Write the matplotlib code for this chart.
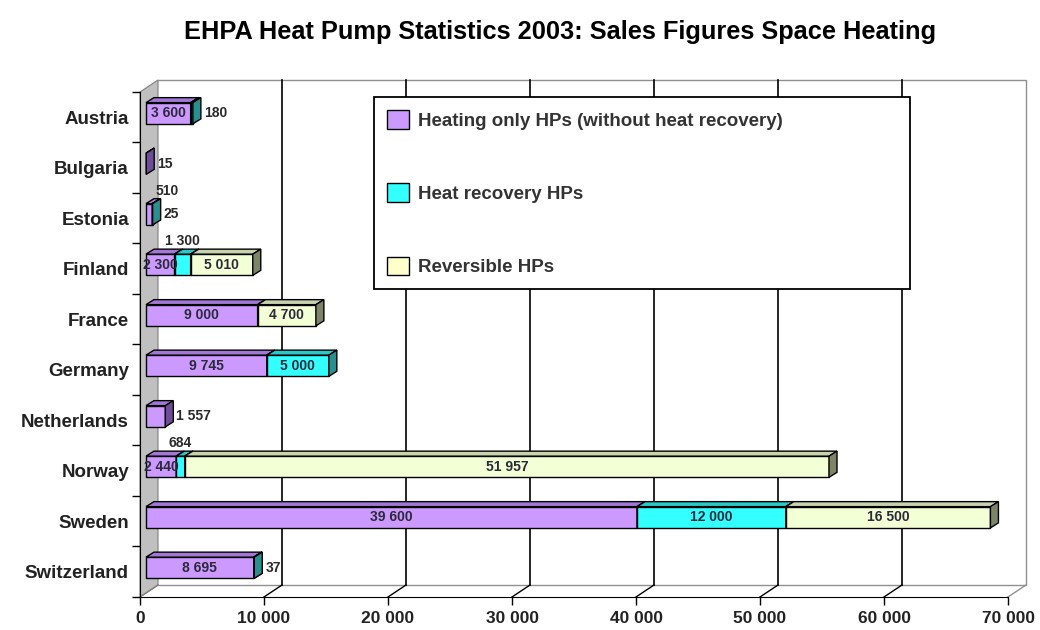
import matplotlib
matplotlib.use("Agg")
import matplotlib.pyplot as plt
from matplotlib.patches import Polygon, Patch

plt.rcParams['font.family'] = ['Liberation Sans', 'DejaVu Sans']

# data (units sold, 2003)
countries = ['Austria', 'Bulgaria', 'Estonia', 'Finland', 'France', 'Germany',
             'Netherlands', 'Norway', 'Sweden', 'Switzerland']
heating_only = [3600, 15, 510, 2300, 9000, 9745, 1557, 2440, 39600, 8695]
heat_recovery = [180, 0, 25, 1300, 0, 5000, 0, 684, 12000, 37]
reversible = [0, 0, 0, 5010, 4700, 0, 0, 51957, 16500, 0]
series_names = ['Heating only HPs (without heat recovery)', 'Heat recovery HPs', 'Reversible HPs']
x_ticks = [0, 10000, 20000, 30000, 40000, 50000, 60000, 70000]

# colours: front, top, side
colors = [('#CC99FF', '#A377D6', '#6E4C99'),
          ('#33FFFF', '#2BC8C8', '#2A8F8F'),
          ('#F3FFD4', '#C9D2AE', '#7D8468')]
legend_colors = ['#CC99FF', '#33FFFF', '#FFFFCC']

W, H = 1040, 630
fig = plt.figure(figsize=(W / 100, H / 100), dpi=100)
ax = fig.add_axes([140 / W, 1 - 597 / H, 868 / W, 505 / H])
XMAX = 70000
ax.set_xlim(0, XMAX)
ax.set_ylim(9.5, -0.5)

# pixel -> data unit helpers for the fake 3D depth
PX = XMAX / 868.0
PY = 10 / 505.0
back_dx, back_dy = 18 * PX, -12 * PY     # back wall offset
bar_dx, bar_dy = 6 * PX, -4 * PY         # bar plane offset
dep_dx, dep_dy = 8 * PX, -5 * PY         # bar depth
bar_h = 0.42

y_top, y_bot = -0.5, 9.5

# side wall (grey)
ax.add_patch(Polygon([(0, y_bot), (0, y_top), (back_dx, y_top + back_dy), (back_dx, y_bot + back_dy)],
                     closed=True, facecolor='#C0C0C0', edgecolor='#808080', lw=0.8, zorder=1, clip_on=False))
# back frame and floor
ax.plot([back_dx, XMAX + back_dx, XMAX + back_dx, back_dx],
        [y_top + back_dy, y_top + back_dy, y_bot + back_dy, y_bot + back_dy],
        color='#909090', lw=1, zorder=1, clip_on=False)
for t in x_ticks[1:]:
    c = '#909090' if t == XMAX else 'black'
    if t < XMAX:
        ax.plot([t + back_dx, t + back_dx], [y_top + back_dy, y_bot + back_dy], color='black', lw=1.2, zorder=1, clip_on=False)
    ax.plot([t, t + back_dx], [y_bot, y_bot + back_dy], color=c, lw=1, zorder=1, clip_on=False)
ax.plot([0, back_dx], [y_bot, y_bot + back_dy], color='#808080', lw=1, zorder=1, clip_on=False)

# bars
all_series = [heating_only, heat_recovery, reversible]
for i, name in enumerate(countries):
    vals = [s[i] for s in all_series]
    nz = [k for k, v in enumerate(vals) if v > 0]
    left = 0
    yc = i + bar_dy
    for k in nz:
        v = vals[k]
        x0, x1 = left + bar_dx, left + v + bar_dx
        fc, tc, sc = colors[k]
        y0, y1 = yc - bar_h / 2, yc + bar_h / 2
        ax.add_patch(Polygon([(x0, y0), (x1, y0), (x1, y1), (x0, y1)], closed=True,
                             facecolor=fc, edgecolor='black', lw=1, zorder=3, clip_on=False))
        ax.add_patch(Polygon([(x0, y0), (x1, y0), (x1 + dep_dx, y0 + dep_dy), (x0 + dep_dx, y0 + dep_dy)], closed=True,
                             facecolor=tc, edgecolor='black', lw=1, zorder=3, clip_on=False))
        ax.add_patch(Polygon([(x1, y0), (x1 + dep_dx, y0 + dep_dy), (x1 + dep_dx, y1 + dep_dy), (x1, y1)], closed=True,
                             facecolor=sc, edgecolor='black', lw=1, zorder=3, clip_on=False))
        label = f"{v:,}".replace(",", " ")
        if v >= 2000:
            ax.text((x0 + x1) / 2, yc, label, ha='center', va='center', fontsize=10,
                    fontweight='bold', color='#2a2a3a', zorder=5, clip_on=True)
        elif k == nz[-1]:
            ax.text(x1 + dep_dx + 3 * PX, yc, label, ha='left', va='center', fontsize=10,
                    fontweight='bold', color='#2a2a2a', zorder=5)
        else:
            ax.text(max((x0 + x1) / 2, 2200), i - 0.54, label, ha='center', va='center', fontsize=10,
                    fontweight='bold', color='#2a2a2a', zorder=5)
        left += v

# axes styling
for s in ['top', 'right']:
    ax.spines[s].set_visible(False)
ax.spines['left'].set_color('black')
ax.spines['bottom'].set_color('black')
ax.spines['left'].set_zorder(2)
ax.set_xticks(x_ticks)
ax.set_xticklabels([f"{t:,}".replace(",", " ") for t in x_ticks], fontsize=12.5, fontweight='bold', color='#222222')
ax.tick_params(axis='x', direction='out', length=6, width=1, pad=4)
ax.set_yticks(range(len(countries)))
ax.set_yticklabels(countries, fontsize=13.5, fontweight='bold', color='#222222')
ax.set_yticks([y_top + j for j in range(11)], minor=True)
ax.tick_params(axis='y', which='major', length=0, pad=8)
ax.tick_params(axis='y', which='minor', direction='out', length=6, width=1)
ax.patch.set_visible(False)

handles = [Patch(facecolor=c, edgecolor='black', lw=1) for c in legend_colors]
leg = fig.legend(handles, series_names, loc='upper left', mode='expand',
                 bbox_to_anchor=(374 / W, 1 - 289 / H, 536 / W, 192 / H), bbox_transform=fig.transFigure,
                 borderaxespad=0, fancybox=False, edgecolor='black', framealpha=1, borderpad=0.7,
                 handlelength=1.17, handleheight=1.17, handletextpad=0.5, labelspacing=2.85,
                 prop={'size': 13.5, 'weight': 'bold'})
leg.get_frame().set_linewidth(1.3)
for txt in leg.get_texts():
    txt.set_color('#333333')

fig.text(560 / W, 1 - 32 / H, 'EHPA Heat Pump Statistics 2003: Sales Figures Space Heating',
         ha='center', va='center', fontsize=18.3, fontweight='bold', color='black')

fig.savefig('out.png', dpi=100)
